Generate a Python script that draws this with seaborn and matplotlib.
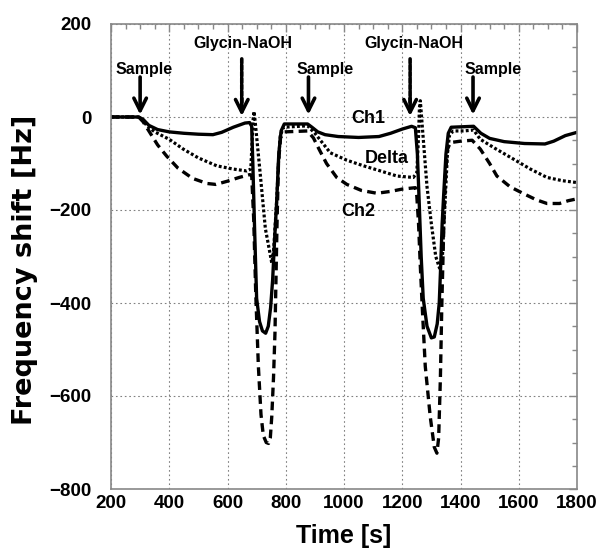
import numpy as np
import matplotlib
matplotlib.use("Agg")
import matplotlib.pyplot as plt
import seaborn as sns

# ---- data (time in s, shift in Hz) ----
t_ch1 = [200, 295, 310, 330, 360, 400, 450, 500, 550, 580, 620, 660, 676, 683,
         687, 693, 700, 710, 720, 731, 740, 748, 755, 762, 769, 776, 784, 795,
         875, 890, 910, 935, 980, 1050, 1120, 1160, 1200, 1232, 1245,
         1252, 1258, 1265, 1272, 1285, 1300, 1310, 1320, 1327, 1332, 1337, 1342,
         1350, 1358, 1368, 1445, 1470, 1500, 1550, 1620, 1690, 1720, 1760, 1800]
ch1 = [0, 0, -5, -18, -27, -32, -35, -37, -38, -33, -22, -13, -12, -20,
       -100, -240, -390, -440, -460, -465, -450, -410, -350, -260, -180, -80, -30, -15,
       -15, -22, -32, -38, -42, -44, -42, -35, -26, -20, -23,
       -80, -180, -300, -390, -450, -475, -473, -445, -400, -320, -230, -170,
       -80, -35, -22, -20, -35, -46, -53, -57, -58, -52, -40, -33]

t_ch2 = [200, 295, 310, 330, 360, 391, 430, 480, 530, 560, 600, 640, 676, 683,
         690, 697, 706, 715, 723, 733, 741, 747, 752, 758, 763, 767, 770, 775, 782, 795,
         875, 895, 915, 940, 975, 1010, 1060, 1113, 1160, 1200, 1245,
         1250, 1256, 1262, 1268, 1279, 1296, 1310, 1319, 1325, 1331, 1336, 1342,
         1348, 1355, 1365, 1400, 1440, 1468, 1500, 1525, 1570, 1617, 1660, 1697,
         1740, 1770, 1800]
ch2 = [0, 0, -10, -30, -60, -84, -110, -132, -143, -145, -138, -130, -124, -125,
       -220, -380, -536, -640, -685, -700, -702, -690, -644, -560, -464, -330, -230, -100, -45, -32,
       -30, -45, -70, -100, -130, -145, -158, -164, -160, -155, -152,
       -170, -230, -320, -400, -536, -644, -710, -723, -690, -560, -400, -250,
       -130, -70, -55, -52, -50, -69, -100, -127, -150, -165, -178, -186,
       -186, -180, -176]

t_delta = [200, 295, 310, 325, 350, 400, 448, 500, 563, 620, 666, 680,
           684, 688, 691, 695, 712, 730, 745, 752, 758, 763, 769, 775, 781, 792,
           875, 900, 953, 1010, 1067, 1120, 1182, 1238, 1250,
           1256, 1259, 1262, 1270, 1285, 1300, 1315, 1328, 1338, 1343, 1348,
           1355, 1362, 1375, 1411, 1445, 1468, 1520, 1583, 1640, 1697, 1750, 1800]
delta = [0, 0, -8, -20, -32, -48, -69, -88, -105, -112, -116, -112,
         -60, -5, 12, -10, -120, -240, -290, -314, -290, -240, -178, -100, -41, -22,
         -19, -35, -77, -93, -105, -115, -127, -130, -120,
         -40, 20, 35, -30, -150, -230, -300, -325, -300, -230, -170,
         -80, -40, -30, -30, -28, -48, -68, -91, -112, -130, -137, -141]

# annotation positions
sample_x = [300, 878, 1443]
sample_text_x = [312, 935, 1512]
glycin_x = [649, 1227]
glycin_text_x = [654, 1241]

series_labels = ["Ch1", "Delta", "Ch2"]
series_label_pos = [(1083, -3), (1147, -89), (1049, -203)]

# ---- style ----
sns.set_style("white")
plt.rcParams["font.family"] = ["Liberation Sans", "DejaVu Sans"]
plt.rcParams["font.weight"] = "bold"
plt.rcParams["text.color"] = "black"
plt.rcParams["axes.labelcolor"] = "black"

fig = plt.figure(figsize=(6.03, 5.52), dpi=100)
ax = fig.add_axes([111 / 603, 63 / 552, 466 / 603, 465 / 552])

sns.lineplot(x=t_ch1, y=ch1, ax=ax, color="black", lw=2.4, linestyle="-")
sns.lineplot(x=t_ch2, y=ch2, ax=ax, color="black", lw=2.4, linestyle=(0, (2.6, 1.6)))
sns.lineplot(x=t_delta, y=delta, ax=ax, color="black", lw=2.3, linestyle=(0, (0.9, 0.7)))

ax.set_xlim(200, 1800)
ax.set_ylim(-800, 200)
ax.set_xticks(np.arange(200, 1801, 200))
ax.set_yticks(np.arange(-800, 201, 200))
ax.set_xticks(np.arange(200, 1801, 50), minor=True)
ax.set_yticks(np.arange(-800, 201, 50), minor=True)

ax.grid(True, which="major", linestyle=(0, (1.5, 2.5)), color="#808080", lw=0.8)
ax.tick_params(which="both", direction="in", top=True, right=True, color="#888888",
               labelcolor="black")
ax.tick_params(which="major", length=6, width=1)
ax.tick_params(which="minor", length=3.5, width=1)
ax.tick_params(axis="x", labelsize=13.5, pad=4)
ax.tick_params(axis="y", labelsize=13.5, pad=14)
for lab in ax.get_xticklabels() + ax.get_yticklabels():
    lab.set_fontweight("bold")
for s in ax.spines.values():
    s.set_color("#888888")
    s.set_linewidth(1.2)

ax.set_xlabel("Time [s]", fontsize=18, fontweight="bold")
ax.set_ylabel("Frequency shift [Hz]", fontsize=19.5, fontweight="bold", va="center",
              family=["DejaVu Sans"])
ax.xaxis.set_label_coords(0.5, -0.075)
ax.yaxis.set_label_coords(-0.185, 0.471)

arrow_kw = dict(arrowstyle="->,head_length=0.9,head_width=0.45", color="black", lw=2.6,
                shrinkA=0, shrinkB=0)
for ax_x, tx in zip(sample_x, sample_text_x):
    ax.annotate("", xy=(ax_x, 5), xytext=(ax_x, 86), arrowprops=arrow_kw)
    ax.text(tx, 103, "Sample", ha="center", va="center", fontsize=11.5, fontweight="bold")

for ax_x, tx in zip(glycin_x, glycin_text_x):
    # dotted shaft, then a solid head
    ax.annotate("", xy=(ax_x, 30), xytext=(ax_x, 125),
                arrowprops=dict(arrowstyle="-", color="black", lw=2.6,
                                linestyle=(0, (1.2, 0.6)), shrinkA=0, shrinkB=0))
    ax.annotate("", xy=(ax_x, 2), xytext=(ax_x, 40), arrowprops=arrow_kw)
    ax.text(tx, 158, "Glycin-NaOH", ha="center", va="center", fontsize=11.5, fontweight="bold")

for lab, (x, y) in zip(series_labels, series_label_pos):
    ax.text(x, y, lab, ha="center", va="center", fontsize=13, fontweight="bold")

fig.savefig("out.png", dpi=100)
